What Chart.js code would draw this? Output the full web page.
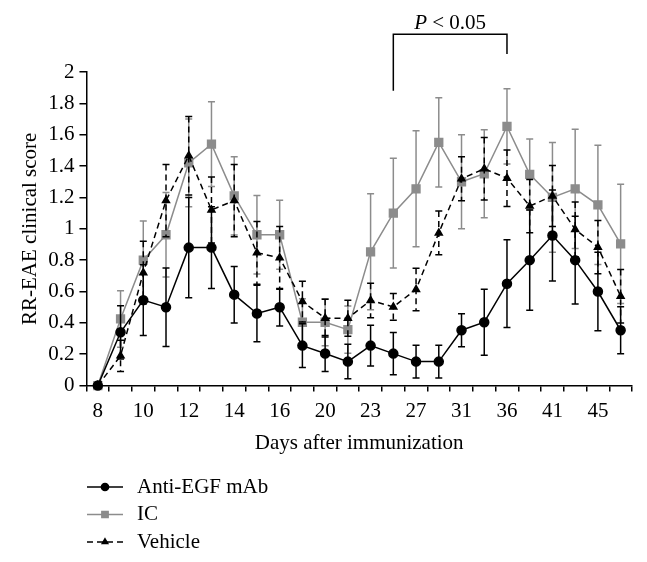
<!DOCTYPE html>
<html>
<head>
<meta charset="utf-8">
<script src="https://cdn.jsdelivr.net/npm/chart.js@4"></script>
<style>
  html, body { margin: 0; background: #fff; }
  #wrap { width: 647px; height: 562px; position: relative; }
</style>
</head>
<body>
<div id="wrap"><canvas id="scoreChart"></canvas></div>
<script>
// Days after immunization (only every other one is labelled on the axis)
const days = [8, 9, 10, 11, 12, 13, 14, 15, 16, 18, 20, 22, 23, 25, 27, 29, 31, 34, 36, 38, 41, 43, 45, 47];

// Mean clinical score per group
const antiEgf = [0, 0.34, 0.545, 0.50, 0.88, 0.88, 0.58, 0.46, 0.50, 0.255, 0.205, 0.153, 0.255, 0.204, 0.153, 0.153, 0.353, 0.404, 0.65, 0.80, 0.957, 0.80, 0.60, 0.353];
const ic = [0, 0.425, 0.80, 0.962, 1.42, 1.54, 1.21, 0.962, 0.962, 0.404, 0.404, 0.357, 0.853, 1.10, 1.255, 1.551, 1.30, 1.351, 1.653, 1.347, 1.20, 1.255, 1.153, 0.904];
const vehicle = [0, 0.19, 0.72, 1.18, 1.466, 1.12, 1.18, 0.847, 0.815, 0.536, 0.43, 0.43, 0.543, 0.502, 0.613, 0.974, 1.319, 1.383, 1.323, 1.145, 1.209, 0.996, 0.883, 0.57];

// Standard errors
const antiEgfSe = [0, 0.17, 0.225, 0.25, 0.32, 0.26, 0.18, 0.18, 0.12, 0.14, 0.115, 0.11, 0.13, 0.135, 0.105, 0.105, 0.105, 0.21, 0.28, 0.32, 0.29, 0.28, 0.25, 0.15];
const icSe = [0, 0.18, 0.25, 0.27, 0.28, 0.27, 0.25, 0.25, 0.22, 0.15, 0.15, 0.15, 0.37, 0.35, 0.37, 0.285, 0.30, 0.28, 0.24, 0.225, 0.35, 0.38, 0.38, 0.38];
const vehicleSe = [0, 0.1, 0.2, 0.23, 0.25, 0.21, 0.23, 0.2, 0.2, 0.13, 0.12, 0.115, 0.11, 0.085, 0.135, 0.14, 0.14, 0.2, 0.18, 0.17, 0.195, 0.175, 0.17, 0.17];

// Significance bracket (category indices) and its label
const bracketFrom = 13;
const bracketTo = 18;
const bracketLabel = ['P', ' < 0.05'];

const FONT = "'Liberation Serif', 'Times New Roman', serif";
const GRAY = '#8c8c8c';

// Vertical error bars, drawn just before each dataset so markers sit on top
const errorBars = {
    id: 'errorBars',
    beforeDatasetDraw(chart, args) {
        const ds = chart.data.datasets[args.index];
        if (!ds.errors) return;
        const y = chart.scales.y;
        const ctx = chart.ctx;
        const dash = ds.borderDash || [];
        ctx.save();
        ctx.strokeStyle = ds.borderColor;
        ctx.lineWidth = 1.5;
        args.meta.data.forEach((pt, i) => {
            const e = ds.errors[i];
            if (!e) return;
            const top = y.getPixelForValue(ds.data[i] + e);
            const bot = y.getPixelForValue(ds.data[i] - e);
            ctx.setLineDash(dash);
            ctx.beginPath();
            ctx.moveTo(pt.x, top);
            ctx.lineTo(pt.x, bot);
            ctx.stroke();
            ctx.setLineDash([]);
            ctx.beginPath();
            ctx.moveTo(pt.x - 3.5, top); ctx.lineTo(pt.x + 3.5, top);
            ctx.moveTo(pt.x - 3.5, bot); ctx.lineTo(pt.x + 3.5, bot);
            ctx.stroke();
        });
        ctx.restore();
    }
};

// "P < 0.05" bracket above the plot
const bracket = {
    id: 'bracket',
    afterDraw(chart) {
        const x = chart.scales.x, y = chart.scales.y, ctx = chart.ctx;
        const x1 = x.getPixelForValue(bracketFrom);
        const x2 = x.getPixelForValue(bracketTo);
        const yTop = y.getPixelForValue(2.24);
        ctx.save();
        ctx.strokeStyle = '#000';
        ctx.lineWidth = 1.5;
        ctx.beginPath();
        ctx.moveTo(x1, y.getPixelForValue(1.88));
        ctx.lineTo(x1, yTop);
        ctx.lineTo(x2, yTop);
        ctx.lineTo(x2, y.getPixelForValue(2.115));
        ctx.stroke();

        ctx.fillStyle = '#000';
        ctx.textBaseline = 'alphabetic';
        ctx.font = 'italic 21px ' + FONT;
        const w1 = ctx.measureText(bracketLabel[0]).width;
        ctx.font = '21px ' + FONT;
        const w2 = ctx.measureText(bracketLabel[1]).width;
        let tx = (x1 + x2) / 2 - (w1 + w2) / 2;
        ctx.font = 'italic 21px ' + FONT;
        ctx.fillText(bracketLabel[0], tx, yTop - 5);
        ctx.font = '21px ' + FONT;
        ctx.fillText(bracketLabel[1], tx + w1, yTop - 5);
        ctx.restore();
    }
};

// Vertical legend in the lower left corner
const stackedLegend = {
    id: 'stackedLegend',
    afterDraw(chart) {
        const ctx = chart.ctx;
        const rows = [0, 2, 1]; // Anti-EGF, IC, Vehicle
        ctx.save();
        rows.forEach((dsIndex, r) => {
            const ds = chart.data.datasets[dsIndex];
            const yy = 487 + r * 27.5;
            ctx.strokeStyle = ds.borderColor;
            ctx.lineWidth = 1.5;
            ctx.setLineDash(ds.borderDash || []);
            ctx.beginPath();
            ctx.moveTo(87, yy);
            ctx.lineTo(123, yy);
            ctx.stroke();
            ctx.setLineDash([]);
            Chart.helpers.drawPoint(ctx, {
                pointStyle: ds.pointStyle,
                radius: ds.pointRadius * 0.8,
                borderWidth: 1
            }, 105, yy);
            ctx.fillStyle = ds.pointBackgroundColor;
            ctx.fill();
            ctx.fillStyle = '#000';
            ctx.font = '21px ' + FONT;
            ctx.textBaseline = 'middle';
            ctx.fillText(ds.label, 137, yy);
        });
        ctx.restore();
    }
};

const ctx = document.getElementById('scoreChart').getContext('2d');
new Chart(ctx, {
    type: 'line',
    data: {
        labels: days,
        datasets: [{
            label: 'Anti-EGF mAb',
            data: antiEgf,
            errors: antiEgfSe,
            borderColor: '#000',
            backgroundColor: '#000',
            pointBackgroundColor: '#000',
            pointBorderColor: '#000',
            pointStyle: 'circle',
            pointRadius: 4.5,
            borderWidth: 1.5,
            order: 0
        }, {
            label: 'Vehicle',
            data: vehicle,
            errors: vehicleSe,
            borderColor: '#000',
            backgroundColor: '#000',
            pointBackgroundColor: '#000',
            pointBorderColor: '#000',
            pointStyle: 'triangle',
            pointRadius: 4,
            borderWidth: 1.5,
            borderDash: [6, 4],
            order: 1
        }, {
            label: 'IC',
            data: ic,
            errors: icSe,
            borderColor: GRAY,
            backgroundColor: GRAY,
            pointBackgroundColor: GRAY,
            pointBorderColor: GRAY,
            pointStyle: 'rect',
            pointRadius: 5.5,
            borderWidth: 1.5,
            order: 2
        }]
    },
    options: {
        responsive: true,
        maintainAspectRatio: false,
        animation: false,
        clip: false,
        layout: {
            padding: { top: 72, right: 15, bottom: 106, left: 18 }
        },
        scales: {
            x: {
                offset: true,
                border: { color: '#000', width: 1.5 },
                grid: {
                    drawOnChartArea: false,
                    drawTicks: true,
                    tickLength: 6,
                    offset: true,
                    color: '#000',
                    lineWidth: 1.5
                },
                ticks: {
                    autoSkip: false,
                    maxRotation: 0,
                    padding: 7,
                    color: '#000',
                    font: { family: FONT, size: 21 },
                    callback: function(val, i) {
                        return i % 2 === 0 ? this.getLabelForValue(val) : '';
                    }
                },
                title: {
                    display: true,
                    text: 'Days after immunization',
                    color: '#000',
                    font: { family: FONT, size: 21 },
                    padding: { top: 0, bottom: 0 }
                }
            },
            y: {
                min: 0,
                max: 2,
                border: { color: '#000', width: 1.5 },
                grid: {
                    drawOnChartArea: false,
                    drawTicks: true,
                    tickLength: 7,
                    color: '#000',
                    lineWidth: 1.5
                },
                ticks: {
                    stepSize: 0.2,
                    padding: 5,
                    color: '#000',
                    font: { family: FONT, size: 21 },
                    callback: function(val) {
                        return String(+val.toFixed(1));
                    }
                },
                title: {
                    display: true,
                    text: 'RR-EAE clinical score',
                    color: '#000',
                    font: { family: FONT, size: 21 },
                    padding: { top: 0, bottom: 0 }
                }
            }
        },
        plugins: {
            legend: { display: false },
            tooltip: { enabled: false }
        }
    },
    plugins: [errorBars, bracket, stackedLegend]
});
</script>
</body>
</html>
